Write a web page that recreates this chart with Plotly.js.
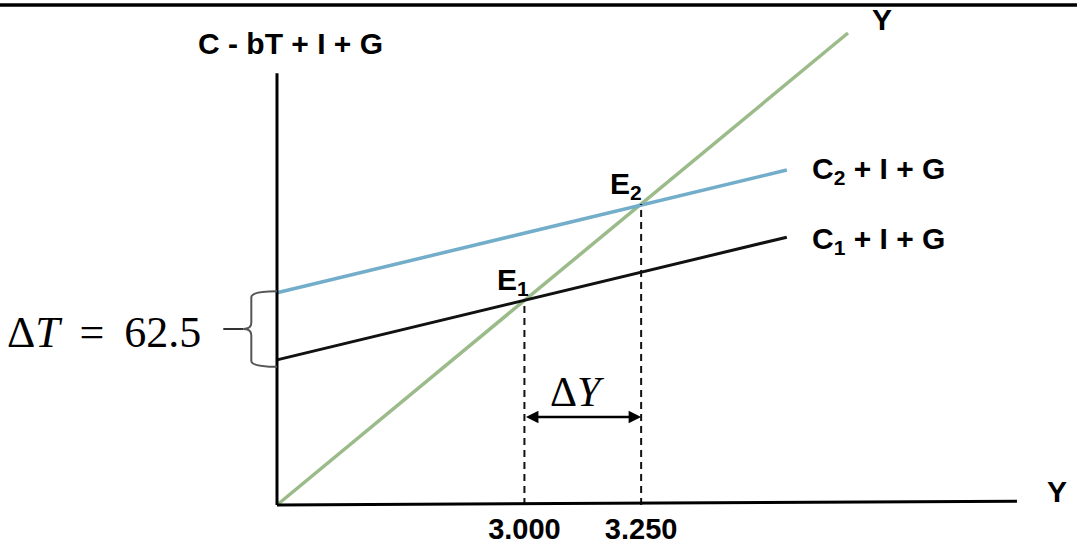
<!DOCTYPE html>
<html>
<head>
<meta charset="utf-8">
<script src="https://cdn.plot.ly/plotly-3.0.1.min.js"></script>
<style>
  html, body { margin: 0; padding: 0; background: #ffffff; }
  #chart { width: 1077px; height: 549px; }
</style>
</head>
<body>
<div id="chart"></div>
<script>
// Keynesian cross: a tax cut shifts aggregate spending up
const origin = 2470;                 // where both axes start
const lineYX = [2470, 3693];         // 45 degree line, AE = Y
const spendX = [2470, 3562];         // income range for both spending lines
const spendC1 = [2846, 3164];        // C1 + I + G
const spendC2 = [3020, 3338];        // C2 + I + G
const eqIncome = [3000, 3250];       // E1, E2 on the income axis
const eqSpending = [3000, 3250];     // E1, E2 on the spending axis
const tickLabels = ["3.000", "3.250"];
const deltaT = 62.5;

// Axis ranges so the plot area spans the whole page
const xRange = [1876.7, 4183.6];
const yRange = [2451.9, 3778.5];

const boldFont = "Liberation Sans, Arial, sans-serif";
const mathFont = "Liberation Serif, Times New Roman, serif";

// 45 degree line
const line45 = {
  x: lineYX, y: lineYX,
  mode: "lines", type: "scatter",
  line: { color: "#9cbb8a", width: 3.5 },
  hoverinfo: "skip", showlegend: false
};

// Spending before and after the tax cut
const lineC1 = {
  x: spendX, y: spendC1,
  mode: "lines", type: "scatter",
  line: { color: "#111111", width: 3 },
  hoverinfo: "skip", showlegend: false
};
const lineC2 = {
  x: spendX, y: spendC2,
  mode: "lines", type: "scatter",
  line: { color: "#72adca", width: 3.5 },
  hoverinfo: "skip", showlegend: false
};

// Dashed drop lines from the equilibria
let dropLines = [];
for (let i = 0; i < eqIncome.length; i++) {
  dropLines.push({
    x: [eqIncome[i], eqIncome[i]],
    y: [origin, eqSpending[i]],
    mode: "lines", type: "scatter",
    line: { color: "#111111", width: 2, dash: "7px,5px" },
    hoverinfo: "skip", showlegend: false
  });
}

// Curly brace between the two intercepts
const braceTop = spendC2[0] + 4;
const braceBot = spendC1[0] - 18;
const braceMid = (braceTop + braceBot) / 2;
const xSpine = origin - 55;
const xTip = origin - 72;
const dy = 16;
const bracePath =
  `M ${origin},${braceTop} Q ${xSpine},${braceTop} ${xSpine},${braceTop - dy} ` +
  `L ${xSpine},${braceMid + dy} Q ${xSpine},${braceMid} ${xTip},${braceMid} ` +
  `Q ${xSpine},${braceMid} ${xSpine},${braceMid - dy} ` +
  `L ${xSpine},${braceBot + dy} Q ${xSpine},${braceBot} ${origin},${braceBot}`;

const shapes = [
  // frame line at the top of the page
  { type: "line", xref: "paper", yref: "paper", x0: 0, x1: 1, y0: 0.9902, y1: 0.9902,
    line: { color: "#000000", width: 3.5 } },
  // vertical axis
  { type: "line", x0: origin, x1: origin, y0: origin, y1: 3589,
    line: { color: "#000000", width: 3 } },
  // horizontal axis
  { type: "line", x0: origin, x1: 4055, y0: origin, y1: 2480,
    line: { color: "#000000", width: 3 } },
  // brace
  { type: "path", path: bracePath, line: { color: "#555555", width: 2 } },
  { type: "line", x0: xTip, x1: origin - 115, y0: braceMid, y1: braceMid,
    line: { color: "#333333", width: 2 } }
];

function label(text, x, y, xanchor, size) {
  return {
    text: "<b>" + text + "</b>", x: x, y: y,
    xanchor: xanchor, yanchor: "middle", showarrow: false,
    font: { family: boldFont, size: size || 30, color: "#000000" }
  };
}

const annotations = [
  label("C - bT + I + G", 2500, 3667, "center"),
  label("Y", 3766, 3727, "center"),
  label("Y", 4141, 2504, "center"),
  label("C<sub>2</sub> + I + G", 3612, 3336, "left"),
  label("C<sub>1</sub> + I + G", 3612, 3155, "left"),
  label("E<sub>1</sub>", 2938, 3049, "left"),
  label("E<sub>2</sub>", 3178, 3297, "left"),
  // change in income arrow
  {
    x: eqIncome[1], y: 2698, ax: eqIncome[0], ay: 2698,
    xref: "x", yref: "y", axref: "x", ayref: "y",
    text: "", showarrow: true, arrowside: "end+start",
    arrowhead: 2, arrowsize: 1, arrowwidth: 2.5, arrowcolor: "#000000",
    standoff: 0, startstandoff: 0
  },
  {
    text: "\u0394<i>Y</i>", x: (eqIncome[0] + eqIncome[1]) / 2 - 12, y: 2762,
    showarrow: false, xanchor: "center", yanchor: "middle",
    font: { family: mathFont, size: 42, color: "#000000" }
  },
  {
    text: "\u0394<i>T</i> \u2009= \u2009" + deltaT, x: 2311, y: 2918,
    showarrow: false, xanchor: "right", yanchor: "middle",
    font: { family: mathFont, size: 44, color: "#000000" }
  }
];

const layout = {
  width: 1077,
  height: 549,
  margin: { l: 0, r: 0, t: 0, b: 37 },
  paper_bgcolor: "#ffffff",
  plot_bgcolor: "#ffffff",
  showlegend: false,
  xaxis: {
    range: xRange,
    showgrid: false, zeroline: false, showline: false,
    ticks: "",
    tickvals: eqIncome,
    ticktext: tickLabels,
    tickfont: { family: boldFont, size: 29, color: "#000000", weight: "bold" },
    ticklabelstandoff: -3
  },
  yaxis: {
    range: yRange,
    visible: false
  },
  shapes: shapes,
  annotations: annotations
};

Plotly.newPlot("chart", [line45, lineC2, lineC1, ...dropLines], layout, {
  displayModeBar: false,
  staticPlot: true
});
</script>
</body>
</html>
